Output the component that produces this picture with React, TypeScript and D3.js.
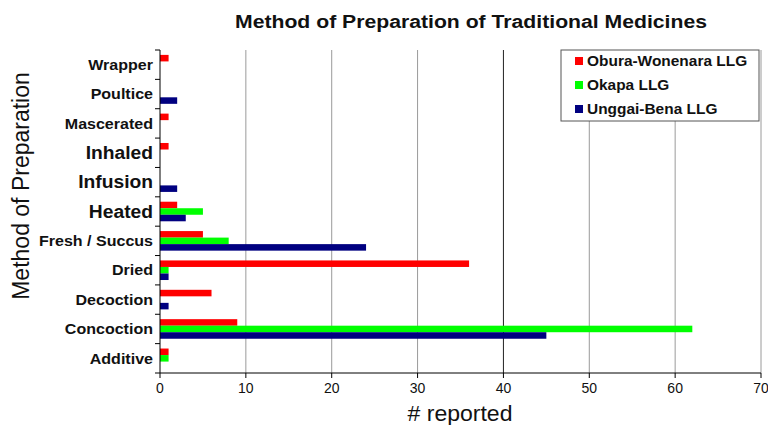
import * as d3 from "d3";

// categories listed bottom to top, the way the chart stacks them
const categories = [
  "Additive",
  "Concoction",
  "Decoction",
  "Dried",
  "Fresh / Succus",
  "Heated",
  "Infusion",
  "Inhaled",
  "Mascerated",
  "Poultice",
  "Wrapper",
];
const bigLabels = ["Heated", "Infusion", "Inhaled"];

const seriesNames = ["Obura-Wonenara LLG", "Okapa LLG", "Unggai-Bena LLG"];
const seriesColors = ["#ff0000", "#00ff00", "#000080"];

const oburaValues = [1, 9, 6, 36, 5, 2, 0, 1, 1, 0, 1];
const okapaValues = [1, 62, 0, 1, 8, 5, 0, 0, 0, 0, 0];
const unggaiValues = [0, 45, 1, 1, 24, 3, 2, 0, 0, 2, 0];
const seriesValues = [oburaValues, okapaValues, unggaiValues];

const xTicks = [0, 10, 20, 30, 40, 50, 60, 70];

const width = 768;
const height = 425;
const margin = { top: 50, right: 7, bottom: 52, left: 160 };
const font = "Arial, 'Liberation Sans', sans-serif";
const stretch = 1.07; // the original text is a bit wider than Arial

export default function App() {
  const plotW = width - margin.left - margin.right;
  const plotH = height - margin.top - margin.bottom;

  const x = d3.scaleLinear().domain([0, 70]).range([0, plotW]);

  // reversed so Additive sits at the bottom
  const y = d3
    .scaleBand<string>()
    .domain([...categories].reverse())
    .range([0, plotH]);

  const inner = d3
    .scaleBand<number>()
    .domain([0, 1, 2])
    .range([0, y.bandwidth()])
    .paddingOuter(0.75)
    .paddingInner(0);

  return (
    <div style={{ position: "absolute", left: 0, top: 0 }}>
      <svg width={width} height={height} style={{ display: "block", background: "#fff" }}>
        <text
          x={471}
          y={28}
          textAnchor="middle"
          fontFamily={font}
          fontWeight="bold"
          fontSize={18}
          textLength={472}
          lengthAdjust="spacingAndGlyphs"
          fill="#111"
        >
          Method of Preparation of Traditional Medicines
        </text>

        <g transform={`translate(${margin.left},${margin.top})`}>
          {/* vertical gridlines */}
          {xTicks.slice(1).map((t) => (
            <line
              key={t}
              x1={x(t)}
              x2={x(t)}
              y1={0}
              y2={plotH}
              stroke={t === 40 ? "#222" : "#9a9a9a"}
              strokeWidth={1}
            />
          ))}

          {/* bars */}
          {categories.map((c, ci) =>
            seriesValues.map((vals, si) =>
              vals[ci] > 0 ? (
                <rect
                  key={c + si}
                  x={x(0)}
                  y={(y(c) as number) + (inner(si) as number)}
                  width={x(vals[ci]) - x(0)}
                  height={inner.bandwidth()}
                  fill={seriesColors[si]}
                />
              ) : null
            )
          )}

          {/* left axis */}
          <line x1={0} x2={0} y1={0} y2={plotH} stroke="#000" />
          {categories.map((c) => (
            <line
              key={"t" + c}
              x1={-5}
              x2={0}
              y1={y(c) as number}
              y2={y(c) as number}
              stroke="#000"
            />
          ))}
          {categories.map((c) => (
            <g
              key={"l" + c}
              transform={`translate(-7,${(y(c) as number) + y.bandwidth() / 2}) scale(${stretch},1)`}
            >
              <text
                dy="0.35em"
                textAnchor="end"
                fontFamily={font}
                fontWeight="bold"
                fontSize={bigLabels.includes(c) ? 18 : 15}
                fill="#111"
              >
                {c}
              </text>
            </g>
          ))}

          {/* bottom axis */}
          <line x1={-5} x2={plotW} y1={plotH} y2={plotH} stroke="#000" />
          {xTicks.map((t) => (
            <g key={"x" + t} transform={`translate(${x(t)},${plotH})`}>
              <line y1={0} y2={5} stroke="#000" />
              <text
                y={20}
                textAnchor="middle"
                fontFamily={font}
                fontSize={14}
                fill="#111"
              >
                {t}
              </text>
            </g>
          ))}
        </g>

        <text
          x={460}
          y={421}
          textAnchor="middle"
          fontFamily={font}
          fontSize={22}
          textLength={105}
          lengthAdjust="spacingAndGlyphs"
          fill="#111"
        >
          # reported
        </text>
        <text
          transform="translate(29,186) rotate(-90)"
          textAnchor="middle"
          fontFamily={font}
          fontSize={23}
          fill="#111"
        >
          Method of Preparation
        </text>

        {/* legend */}
        <g transform="translate(561,50)">
          <rect width={198} height={71} fill="#fff" stroke="#555" />
          {seriesNames.map((n, i) => (
            <g key={n} transform={`translate(14,${11 + i * 24})`}>
              <rect width={8} height={8} y={-4} fill={seriesColors[i]} />
              <g transform={`translate(12,0) scale(1.03,1)`}>
                <text
                  dy="0.36em"
                  fontFamily={font}
                  fontWeight="bold"
                  fontSize={15}
                  fill="#111"
                >
                  {n}
                </text>
              </g>
            </g>
          ))}
        </g>
      </svg>
    </div>
  );
}
